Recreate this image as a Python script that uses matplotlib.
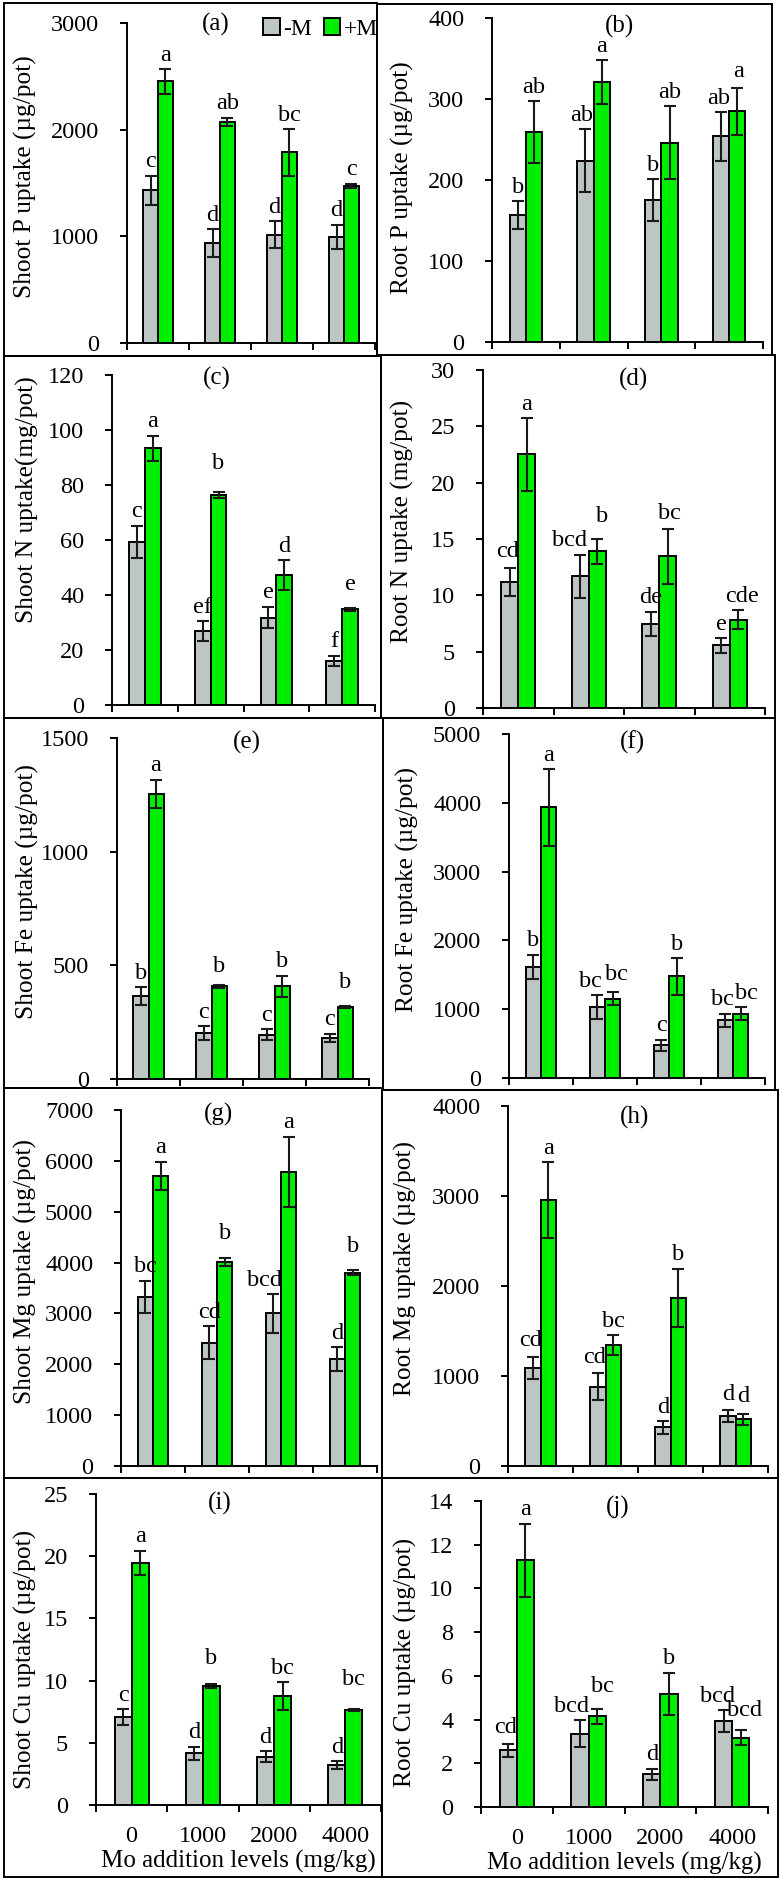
import matplotlib
matplotlib.use('Agg')
import matplotlib.pyplot as plt
from matplotlib.patches import Rectangle, Patch
import numpy as np

plt.rcParams['font.family'] = ['Liberation Serif', 'DejaVu Serif']

W, H = 783, 1880
GRAY = '#BEC6C3'
GREEN = '#00EE00'

levels = ['0', '1000', '2000', '4000']
series_names = ['-M', '+M']

# (a) Shoot P uptake (ug/pot)
shootP_noM = [1430, 938, 1016, 994]
shootP_noM_err = [140, 132, 125, 116]
shootP_M = [2453, 2075, 1787, 1475]
shootP_M_err = [115, 37, 220, 20]
shootP_noM_let = ['c', 'd', 'd', 'd']
shootP_M_let = ['a', 'ab', 'bc', 'c']

# (b) Root P uptake (ug/pot)
rootP_noM = [157, 224, 175, 254]
rootP_noM_err = [17, 39, 26, 30]
rootP_M = [259, 321, 246, 285]
rootP_M_err = [38, 27, 45, 29]
rootP_noM_let = ['b', 'ab', 'b', 'ab']
rootP_M_let = ['ab', 'a', 'ab', 'a']

# (c) Shoot N uptake (mg/pot)
shootN_noM = [59.4, 26.9, 31.8, 16.1]
shootN_noM_err = [5.8, 3.6, 3.9, 1.8]
shootN_M = [93.3, 76.4, 47.3, 34.8]
shootN_M_err = [4.6, 1.2, 5.4, 0.5]
shootN_noM_let = ['c', 'ef', 'e', 'f']
shootN_M_let = ['a', 'b', 'd', 'e']

# (d) Root N uptake (mg/pot)
rootN_noM = [11.2, 11.7, 7.45, 5.56]
rootN_noM_err = [1.25, 1.9, 1.1, 0.65]
rootN_M = [22.5, 13.9, 13.45, 7.83]
rootN_M_err = [3.25, 1.1, 2.45, 0.83]
rootN_noM_let = ['cd', 'bcd', 'de', 'e']
rootN_M_let = ['a', 'b', 'bc', 'cde']

# (e) Shoot Fe uptake (ug/pot)
shootFe_noM = [364, 202, 195, 180]
shootFe_noM_err = [40, 30, 25, 19]
shootFe_M = [1254, 408, 408, 317]
shootFe_M_err = [63, 7, 47, 3]
shootFe_noM_let = ['b', 'c', 'c', 'c']
shootFe_M_let = ['a', 'b', 'b', 'b']

# (f) Root Fe uptake (ug/pot)
rootFe_noM = [1612, 1031, 474, 837]
rootFe_noM_err = [180, 170, 83, 97]
rootFe_M = [3935, 1152, 1476, 934]
rootFe_M_err = [557, 92, 266, 97]
rootFe_noM_let = ['b', 'bc', 'c', 'bc']
rootFe_M_let = ['a', 'bc', 'b', 'bc']

# (g) Shoot Mg uptake (ug/pot)
shootMg_noM = [3330, 2425, 3002, 2097]
shootMg_noM_err = [315, 328, 380, 236]
shootMg_M = [5702, 4018, 5781, 3801]
shootMg_M_err = [282, 78, 695, 52]
shootMg_noM_let = ['bc', 'cd', 'bcd', 'd']
shootMg_M_let = ['a', 'b', 'a', 'b']

# (h) Root Mg uptake (ug/pot)
rootMg_noM = [1092, 881, 429, 555]
rootMg_noM_err = [122, 148, 70, 67]
rootMg_M = [2953, 1343, 1869, 518]
rootMg_M_err = [425, 111, 325, 59]
rootMg_noM_let = ['cd', 'cd', 'd', 'd']
rootMg_M_let = ['a', 'bc', 'b', 'd']

# (i) Shoot Cu uptake (ug/pot)
shootCu_noM = [7.05, 4.15, 3.89, 3.22]
shootCu_noM_err = [0.64, 0.54, 0.45, 0.32]
shootCu_M = [19.48, 9.57, 8.76, 7.64]
shootCu_M_err = [0.96, 0.16, 1.1, 0.08]
shootCu_noM_let = ['c', 'd', 'd', 'd']
shootCu_M_let = ['a', 'b', 'bc', 'bc']

# (j) Root Cu uptake (ug/pot)
rootCu_noM = [2.59, 3.36, 1.49, 3.93]
rootCu_noM_err = [0.3, 0.61, 0.26, 0.49]
rootCu_M = [11.29, 4.16, 5.19, 3.17]
rootCu_M_err = [1.68, 0.34, 0.96, 0.34]
rootCu_noM_let = ['cd', 'bcd', 'd', 'bcd']
rootCu_M_let = ['a', 'bc', 'b', 'bcd']

panels = [
    dict(tag='(a)', ylabel='Shoot P uptake (µg/pot)', ymax=3000, step=1000,
         d=(shootP_noM, shootP_noM_err, shootP_M, shootP_M_err, shootP_noM_let, shootP_M_let),
         rect=(127, 375, 23, 343), ylab=(25, 177), tagpos=(216, 24), shift={}),
    dict(tag='(b)', ylabel='Root P uptake (µg/pot)', ymax=400, step=100,
         d=(rootP_noM, rootP_noM_err, rootP_M, rootP_M_err, rootP_noM_let, rootP_M_let),
         rect=(492, 763, 18, 342), ylab=(402, 178), tagpos=(620, 26),
         shift={(0, 1): (-4, 0), (0, 3): (-2, 0), (1, 3): (1, 2)}),
    dict(tag='(c)', ylabel='Shoot N uptake(mg/pot)', ymax=120, step=20,
         d=(shootN_noM, shootN_noM_err, shootN_M, shootN_M_err, shootN_noM_let, shootN_M_let),
         rect=(112, 375, 375, 705), ylab=(27, 500), tagpos=(217, 378),
         shift={(1, 1): (0, 14), (1, 3): (0, 10)}),
    dict(tag='(d)', ylabel='Root N uptake (mg/pot)', ymax=30, step=5,
         d=(rootN_noM, rootN_noM_err, rootN_M, rootN_M_err, rootN_noM_let, rootN_M_let),
         rect=(483, 765, 370, 708), ylab=(402, 521), tagpos=(633, 379),
         shift={(0, 0): (-2, 2), (0, 1): (-11, 0), (1, 1): (5, 9), (1, 2): (2, 2), (1, 3): (4, 0)}),
    dict(tag='(e)', ylabel='Shoot Fe uptake (µg/pot)', ymax=1500, step=500,
         d=(shootFe_noM, shootFe_noM_err, shootFe_M, shootFe_M_err, shootFe_noM_let, shootFe_M_let),
         rect=(117, 369, 738, 1079), ylab=(27, 892), tagpos=(247, 742),
         shift={(1, 1): (0, 4), (1, 3): (0, 10)}),
    dict(tag='(f)', ylabel='Root Fe uptake (µg/pot)', ymax=5000, step=1000,
         d=(rootFe_noM, rootFe_noM_err, rootFe_M, rootFe_M_err, rootFe_noM_let, rootFe_M_let),
         rect=(509, 765, 734, 1078), ylab=(407, 889), tagpos=(632, 742),
         shift={(0, 1): (-7, 0), (1, 1): (4, 4), (0, 3): (-3, 0), (1, 3): (6, 0)}),
    dict(tag='(g)', ylabel='Shoot Mg uptake (µg/pot)', ymax=7000, step=1000,
         d=(shootMg_noM, shootMg_noM_err, shootMg_M, shootMg_M_err, shootMg_noM_let, shootMg_M_let),
         rect=(121, 377, 1110, 1466), ylab=(25, 1272), tagpos=(219, 1114),
         shift={(0, 2): (-9, 0), (1, 1): (0, 10), (1, 3): (0, 10)}),
    dict(tag='(h)', ylabel='Root Mg uptake (µg/pot)', ymax=4000, step=1000,
         d=(rootMg_noM, rootMg_noM_err, rootMg_M, rootMg_M_err, rootMg_noM_let, rootMg_M_let),
         rect=(508, 768, 1106, 1466), ylab=(405, 1268), tagpos=(635, 1117),
         shift={(0, 0): (-2, 2), (0, 1): (-3, 2), (0, 3): (0, 2), (1, 3): (0, 4)}),
    dict(tag='(i)', ylabel='Shoot Cu uptake (µg/pot)', ymax=25, step=5,
         d=(shootCu_noM, shootCu_noM_err, shootCu_M, shootCu_M_err, shootCu_noM_let, shootCu_M_let),
         rect=(96, 381, 1494, 1805), ylab=(25, 1659), tagpos=(220, 1503),
         shift={(1, 1): (0, 12), (1, 3): (0, 16)}),
    dict(tag='(j)', ylabel='Root Cu uptake (µg/pot)', ymax=14, step=2,
         d=(rootCu_noM, rootCu_noM_err, rootCu_M, rootCu_M_err, rootCu_noM_let, rootCu_M_let),
         rect=(481, 768, 1501, 1807), ylab=(405, 1662), tagpos=(618, 1507),
         shift={(0, 0): (-3, 2), (0, 1): (-9, 0), (1, 1): (5, 8), (0, 3): (-6, 0), (1, 3): (4, 6)}),
]

boxes = [
    (4, 377, 3, 356), (377, 772, 4, 355),
    (4, 381, 356, 718), (381, 775, 355, 718),
    (4, 383, 718, 1088), (383, 775, 718, 1090),
    (4, 382, 1088, 1478), (382, 778, 1090, 1478),
    (4, 382, 1478, 1877), (382, 778, 1478, 1877),
]

fig = plt.figure(figsize=(W / 100, H / 100), dpi=100)
fig.patch.set_facecolor('white')

def fx(px):
    return px / W

def fy(py):
    return 1 - py / H

for (l, r, t, b) in boxes:
    fig.patches.append(Rectangle((fx(l), fy(b)), fx(r) - fx(l), fy(t) - fy(b),
                                 transform=fig.transFigure, fill=False,
                                 edgecolor='black', linewidth=1.4, zorder=0))

LW = 1.4
PX = 0.72  # points per pixel at dpi 100
bw = 0.24
x = np.arange(len(levels)) + 0.5
err_kw = dict(ecolor='#1a1a1a', elinewidth=1.5, capsize=4.6, capthick=1.5, zorder=4)

for i, p in enumerate(panels):
    l, r, t, b = p['rect']
    ax = fig.add_axes([fx(l), fy(b), fx(r) - fx(l), fy(t) - fy(b)])
    ax.patch.set_alpha(0)
    noM, noMe, M, Me, noMl, Ml = p['d']
    ax.bar(x - bw / 2, noM, bw, yerr=noMe, color=GRAY, edgecolor='black',
           linewidth=LW, error_kw=err_kw, zorder=2, label=series_names[0])
    ax.bar(x + bw / 2, M, bw, yerr=Me, color=GREEN, edgecolor='black',
           linewidth=LW, error_kw=err_kw, zorder=2, label=series_names[1])
    for s, (vals, errs, lets, off) in enumerate([(noM, noMe, noMl, -bw / 2), (M, Me, Ml, bw / 2)]):
        for j in range(len(levels)):
            dx, dy = p['shift'].get((s, j), (0, 0))
            ax.annotate(lets[j], (x[j] + off, vals[j] + errs[j]),
                        xytext=(dx * PX, 6 + dy * PX), textcoords='offset points',
                        ha='center', va='baseline', fontsize=17.5, zorder=5)
    ax.set_xlim(0, 4)
    ax.set_ylim(0, p['ymax'])
    ax.set_yticks(np.arange(0, p['ymax'] + p['step'] / 2, p['step']))
    ax.tick_params(axis='y', direction='out', length=5, width=LW, pad=15, labelsize=17.5)
    ax.set_xticks([0, 1, 2, 3, 4])
    ax.set_xticklabels([])
    ax.tick_params(axis='x', which='major', direction='out', length=5, width=LW)
    for sp in ['top', 'right']:
        ax.spines[sp].set_visible(False)
    for sp in ['left', 'bottom']:
        ax.spines[sp].set_linewidth(LW)
    ax.set_ylabel(p['ylabel'], fontsize=18.3)
    ax.yaxis.label.set_va('center')
    ax.yaxis.set_label_coords(fx(p['ylab'][0]), fy(p['ylab'][1]), transform=fig.transFigure)
    fig.text(fx(p['tagpos'][0]), fy(p['tagpos'][1]), p['tag'], ha='center', va='center', fontsize=18)
    if i >= 8:
        ax.set_xticks(x, minor=True)
        ax.set_xticklabels(levels, minor=True)
        ax.tick_params(axis='x', which='minor', length=0, pad=15, labelsize=17.5)
        ax.set_xlabel('Mo addition levels (mg/kg)', fontsize=18, labelpad=2)
    if i == 0:
        handles = [Patch(facecolor=GRAY, edgecolor='black', linewidth=LW),
                   Patch(facecolor=GREEN, edgecolor='black', linewidth=LW)]
        ax.legend(handles, series_names, ncol=2, frameon=False, loc='upper right',
                  bbox_to_anchor=(fx(378), fy(18)), bbox_transform=fig.transFigure,
                  handlelength=0.7, handleheight=0.7, handletextpad=0.15,
                  columnspacing=0.5, borderpad=0, borderaxespad=0, fontsize=17)

fig.savefig('out.png', dpi=100, facecolor='white')
